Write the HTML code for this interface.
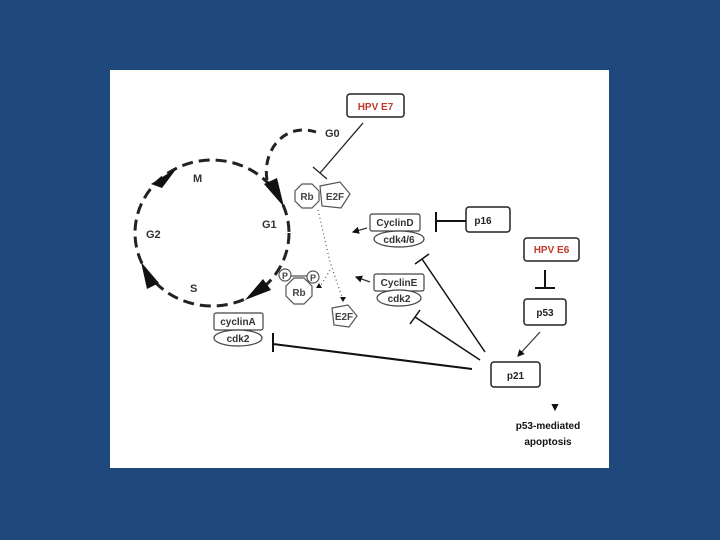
<!DOCTYPE html>
<html><head><meta charset="utf-8"><style>
html,body{margin:0;padding:0;background:#1f497d;}
svg{display:block;}
text{font-family:"Liberation Sans",sans-serif;font-weight:bold;}
</style></head><body>
<svg width="720" height="540" viewBox="0 0 720 540" xmlns="http://www.w3.org/2000/svg">
<rect width="720" height="540" fill="#1f497d"/>
<rect x="110" y="70" width="499" height="398" fill="#fff"/>
<defs><marker id="ah" markerWidth="6" markerHeight="6" refX="5" refY="3" orient="auto"><path d="M0,0 L6,3 L0,6z" fill="#111"/></marker></defs>
<g stroke="#222" fill="none">
<ellipse cx="212" cy="233" rx="77" ry="73" stroke-width="3" stroke-dasharray="11,6"/>
<path d="M267,180 C262,150 285,122 316,132" stroke-width="3" stroke-dasharray="9,6"/>
</g>
<g fill="#111">
<polygon points="151,184 177,168 162,188"/>
<polygon points="264,184 277,178 284,207"/>
<polygon points="141,262 147,289 159,283"/>
<polygon points="245,300 263,279 271,290"/>
</g>
<g font-size="11" fill="#333">
<text x="193" y="182">M</text><text x="262" y="228">G1</text><text x="146" y="238">G2</text><text x="190" y="292">S</text><text x="325" y="137">G0</text>
</g>
<rect x="347" y="94" width="57" height="23" rx="3" fill="#fff" stroke="#222" stroke-width="1.5"/>
<text x="375.5" y="110" font-size="10" fill="#c0392b" text-anchor="middle">HPV E7</text>
<g stroke="#222" stroke-width="1.3">
<line x1="363" y1="123" x2="320" y2="173"/><line x1="313" y1="167" x2="327" y2="179"/>
</g>
<g stroke="#555" stroke-width="1.2" fill="#fff">
<polygon points="319,191 312,184 302,184 295,191 295,201 302,208 312,208 319,201"/>
<polygon points="320,186 340,182 350,194 341,208 322,206"/>
<polygon points="312,286 304,278 294,278 286,286 286,296 294,304 304,304 312,296"/>
<line x1="290" y1="276" x2="309" y2="276"/>
<circle cx="285" cy="275" r="6"/><circle cx="313" cy="277" r="6"/>
<polygon points="332,308 348,305 357,316 349,327 334,325"/>
</g>
<g font-size="10" fill="#444">
<text x="307" y="200" text-anchor="middle">Rb</text><text x="335" y="200" text-anchor="middle">E2F</text>
<text x="299" y="296" text-anchor="middle">Rb</text>
<text x="285" y="279" text-anchor="middle" font-size="9">P</text><text x="313" y="281" text-anchor="middle" font-size="9">P</text>
<text x="344" y="320" text-anchor="middle">E2F</text>
</g>
<g stroke="#555" stroke-width="1.2" stroke-dasharray="1,3" fill="none">
<path d="M318,210 L330,262 L343,300"/><path d="M330,270 L320,287"/>
</g>
<polygon points="340,297 346,297 343,302" fill="#111"/><polygon points="316,288 322,288 319,283" fill="#111"/>
<g stroke="#444" stroke-width="1.2" fill="#fff">
<rect x="370" y="214" width="50" height="17" rx="2"/><ellipse cx="399" cy="239" rx="25" ry="8"/>
<rect x="374" y="274" width="50" height="17" rx="2"/><ellipse cx="399" cy="298" rx="22" ry="8"/>
<rect x="214" y="313" width="49" height="17" rx="2"/><ellipse cx="238" cy="338" rx="24" ry="8"/>
</g>
<g font-size="10" fill="#333" text-anchor="middle">
<text x="395" y="226">CyclinD</text><text x="399" y="243">cdk4/6</text>
<text x="399" y="286">CyclinE</text><text x="399" y="302">cdk2</text>
<text x="238" y="325">cyclinA</text><text x="238" y="342">cdk2</text>
</g>
<g stroke="#333" stroke-width="1.2" marker-end="url(#ah)">
<line x1="367" y1="228" x2="353" y2="232"/><line x1="370" y1="282" x2="356" y2="277"/>
<line x1="540" y1="332" x2="518" y2="356"/><line x1="555" y1="406" x2="555" y2="410"/>
</g>
<rect x="466" y="207" width="44" height="25" rx="3" fill="#fff" stroke="#222" stroke-width="1.5"/>
<text x="483" y="224" font-size="10" fill="#222" text-anchor="middle">p16</text>
<g stroke="#111" stroke-width="2">
<line x1="436" y1="212" x2="436" y2="232"/><line x1="436" y1="221" x2="466" y2="221"/>
<line x1="545" y1="270" x2="545" y2="288"/><line x1="535" y1="288" x2="555" y2="288"/>
<line x1="273" y1="333" x2="273" y2="352"/><line x1="273" y1="344" x2="472" y2="369"/>
</g>
<rect x="524" y="238" width="55" height="23" rx="3" fill="#fff" stroke="#222" stroke-width="1.5"/>
<text x="551.5" y="253" font-size="10" fill="#c0392b" text-anchor="middle">HPV E6</text>
<rect x="524" y="299" width="42" height="26" rx="3" fill="#fff" stroke="#222" stroke-width="1.5"/>
<text x="545" y="316" font-size="10" fill="#222" text-anchor="middle">p53</text>
<rect x="491" y="362" width="49" height="25" rx="3" fill="#fff" stroke="#222" stroke-width="1.5"/>
<text x="515.5" y="379" font-size="10" fill="#222" text-anchor="middle">p21</text>
<g stroke="#111" stroke-width="1.5">
<line x1="485" y1="352" x2="422" y2="259"/><line x1="415" y1="264" x2="429" y2="254"/>
<line x1="480" y1="360" x2="415" y2="317"/><line x1="410" y1="324" x2="420" y2="310"/>
</g>
<text x="548" y="429" font-size="10" fill="#111" text-anchor="middle">p53-mediated</text>
<text x="548" y="445" font-size="10" fill="#111" text-anchor="middle" font-weight="normal">apoptosis</text>
</svg>
</body></html>
